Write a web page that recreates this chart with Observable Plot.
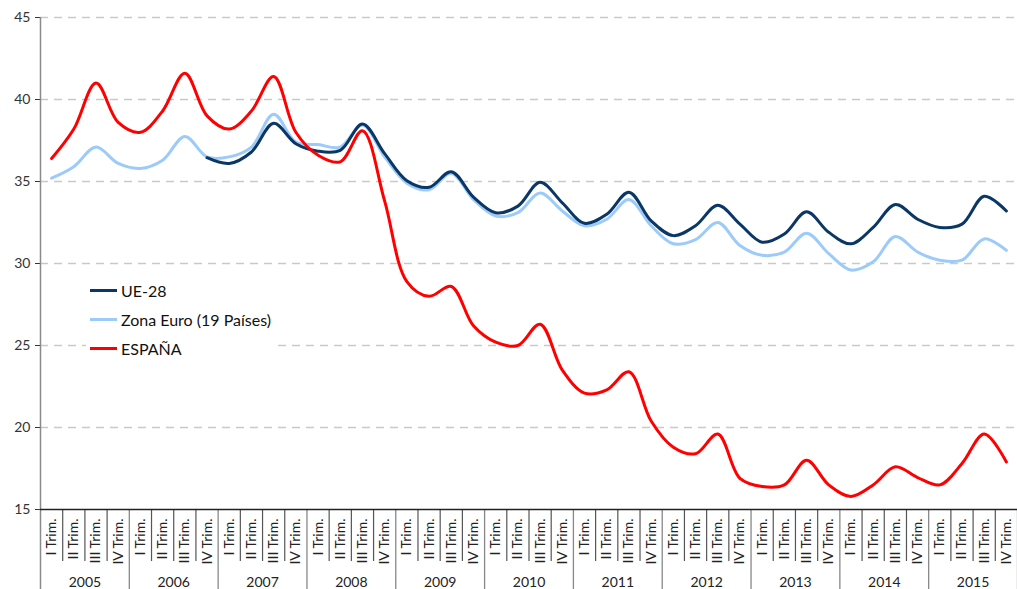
<!DOCTYPE html>
<html>
<head>
<meta charset="utf-8">
<script src="https://cdn.jsdelivr.net/npm/d3@7"></script>
<script src="https://cdn.jsdelivr.net/npm/@observablehq/plot@0.6"></script>
<style>
  body { margin: 0; background: #fff; font-family: Lato, "Open Sans", sans-serif; }
  #wrap { position: relative; width: 1017px; height: 589px; }
  #legend { position: absolute; left: 86px; top: 276px; background: #fff; padding: 0px 6px 4px 4px; font-size: 16px; color: #111; }
  .item { display: flex; align-items: center; height: 29px; }
  .sw { width: 27px; height: 3px; margin-right: 4px; }
</style>
</head>
<body>
<div id="wrap"></div>
<script>
const quarterLabels = ["I Trim.", "II Trim.", "III Trim.", "IV Trim."];
const years = [2005, 2006, 2007, 2008, 2009, 2010, 2011, 2012, 2013, 2014, 2015];
const yTicks = [15, 20, 25, 30, 35, 40, 45];
const gridTicks = [20, 25, 30, 35, 40, 45];

const seriesNames = ["UE-28", "Zona Euro (19 Países)", "ESPAÑA"];
const seriesColors = ["#0b3766", "#9ccbfa", "#ff0000"];

const ue28 = [null, null, null, null, null, null, null, 36.45,
  36.1, 36.8, 38.55, 37.3, 36.85, 36.9, 38.5, 36.7,
  35.05, 34.65, 35.6, 34.05, 33.1, 33.5, 34.95, 33.7,
  32.45, 33.0, 34.35, 32.6, 31.7, 32.3, 33.55, 32.4,
  31.3, 31.8, 33.15, 31.9, 31.2, 32.2, 33.6, 32.7,
  32.2, 32.4, 34.1, 33.2];
const zonaEuro = [35.2, 35.9, 37.1, 36.1, 35.8, 36.3, 37.75, 36.5,
  36.5, 37.1, 39.1, 37.4, 37.25, 37.1, 38.45, 36.5,
  34.9, 34.5, 35.5, 33.9, 32.9, 33.1, 34.3, 33.2,
  32.3, 32.7, 33.9, 32.3, 31.2, 31.45, 32.5, 31.1,
  30.5, 30.7, 31.85, 30.6, 29.6, 30.1, 31.65, 30.7,
  30.2, 30.2, 31.5, 30.8];
const espana = [36.4, 38.2, 41.0, 38.6, 38.0, 39.3, 41.6, 39.0,
  38.2, 39.3, 41.4, 38.0, 36.6, 36.2, 38.1, 33.8,
  28.9, 28.0, 28.6, 26.2, 25.2, 25.0, 26.3, 23.5,
  22.1, 22.3, 23.4, 20.4, 18.8, 18.4, 19.6, 16.9,
  16.4, 16.5, 18.0, 16.5, 15.8, 16.5, 17.6, 16.95,
  16.5, 17.8, 19.6, 17.9];

const W = 1017, H = 589, mTop = 17, mBottom = 80, mLeft = 40, mRight = 0;
const nQ = years.length * 4;
const pxPerUnit = (H - mTop - mBottom) / (yTicks[yTicks.length - 1] - yTicks[0]);
const yMin = yTicks[0];
const ySepQuarter = yMin - 52 / pxPerUnit;
const ySepYear = yMin - 80 / pxPerUnit;

const rows = [];
[ue28, zonaEuro, espana].forEach((arr, s) => arr.forEach((v, i) => rows.push({s: seriesNames[s], i, v})));
const qIdx = d3.range(nQ);
const boundaries = d3.range(nQ + 1).map(k => ({x: k - 0.5, year: k % 4 === 0}));

const drawOrder = [seriesNames[1], seriesNames[0], seriesNames[2]];

const chart = Plot.plot({
  width: W, height: H,
  marginTop: mTop, marginBottom: mBottom, marginLeft: mLeft, marginRight: mRight,
  style: {fontFamily: "Lato, 'Open Sans', sans-serif", fontSize: "14px", color: "#333", background: "#fff"},
  x: {type: "linear", domain: [-0.5, nQ - 0.5], axis: null},
  y: {domain: [yMin, 45], ticks: yTicks, tickSize: 5, tickPadding: 5, label: null, tickFormat: d => d},
  marks: [
    Plot.ruleY(gridTicks, {stroke: "#c9c9c9", strokeDasharray: "8,6", strokeWidth: 1.3}),
    Plot.ruleX([-0.5], {y1: ySepYear, y2: 45, stroke: "#8a8a8a", strokeWidth: 1.5}),
    Plot.ruleX(boundaries.filter(b => !b.year), {x: "x", y1: yMin, y2: ySepQuarter, stroke: "#555", strokeWidth: 1.2}),
    Plot.ruleX(boundaries.filter(b => b.year && b.x > -0.5), {x: "x", y1: yMin, y2: ySepYear, stroke: "#888", strokeWidth: 1.3}),
    Plot.ruleY([yMin], {stroke: "#222", strokeWidth: 1.3}),
    Plot.text(qIdx, {x: d => d, y: yMin, text: d => quarterLabels[d % 4], rotate: -90, textAnchor: "end", dy: 9, fontSize: 14, fill: "#222"}),
    Plot.text(years, {x: (d, k) => k * 4 + 1.5, y: yMin, text: d => String(d), dy: 73, fontSize: 14, fill: "#222"}),
    ...drawOrder.map(name => Plot.line(rows.filter(r => r.s === name), {
      x: "i", y: "v", stroke: seriesColors[seriesNames.indexOf(name)], strokeWidth: 3,
      curve: "catmull-rom", defined: r => r.v != null
    }))
  ]
});
document.getElementById("wrap").appendChild(chart);

const legend = document.createElement("div");
legend.id = "legend";
seriesNames.forEach((name, k) => {
  const item = document.createElement("div");
  item.className = "item";
  const sw = document.createElement("div");
  sw.className = "sw";
  sw.style.background = seriesColors[k];
  const label = document.createElement("span");
  label.textContent = name;
  item.appendChild(sw); item.appendChild(label);
  legend.appendChild(item);
});
document.getElementById("wrap").appendChild(legend);
</script>
</body>
</html>
